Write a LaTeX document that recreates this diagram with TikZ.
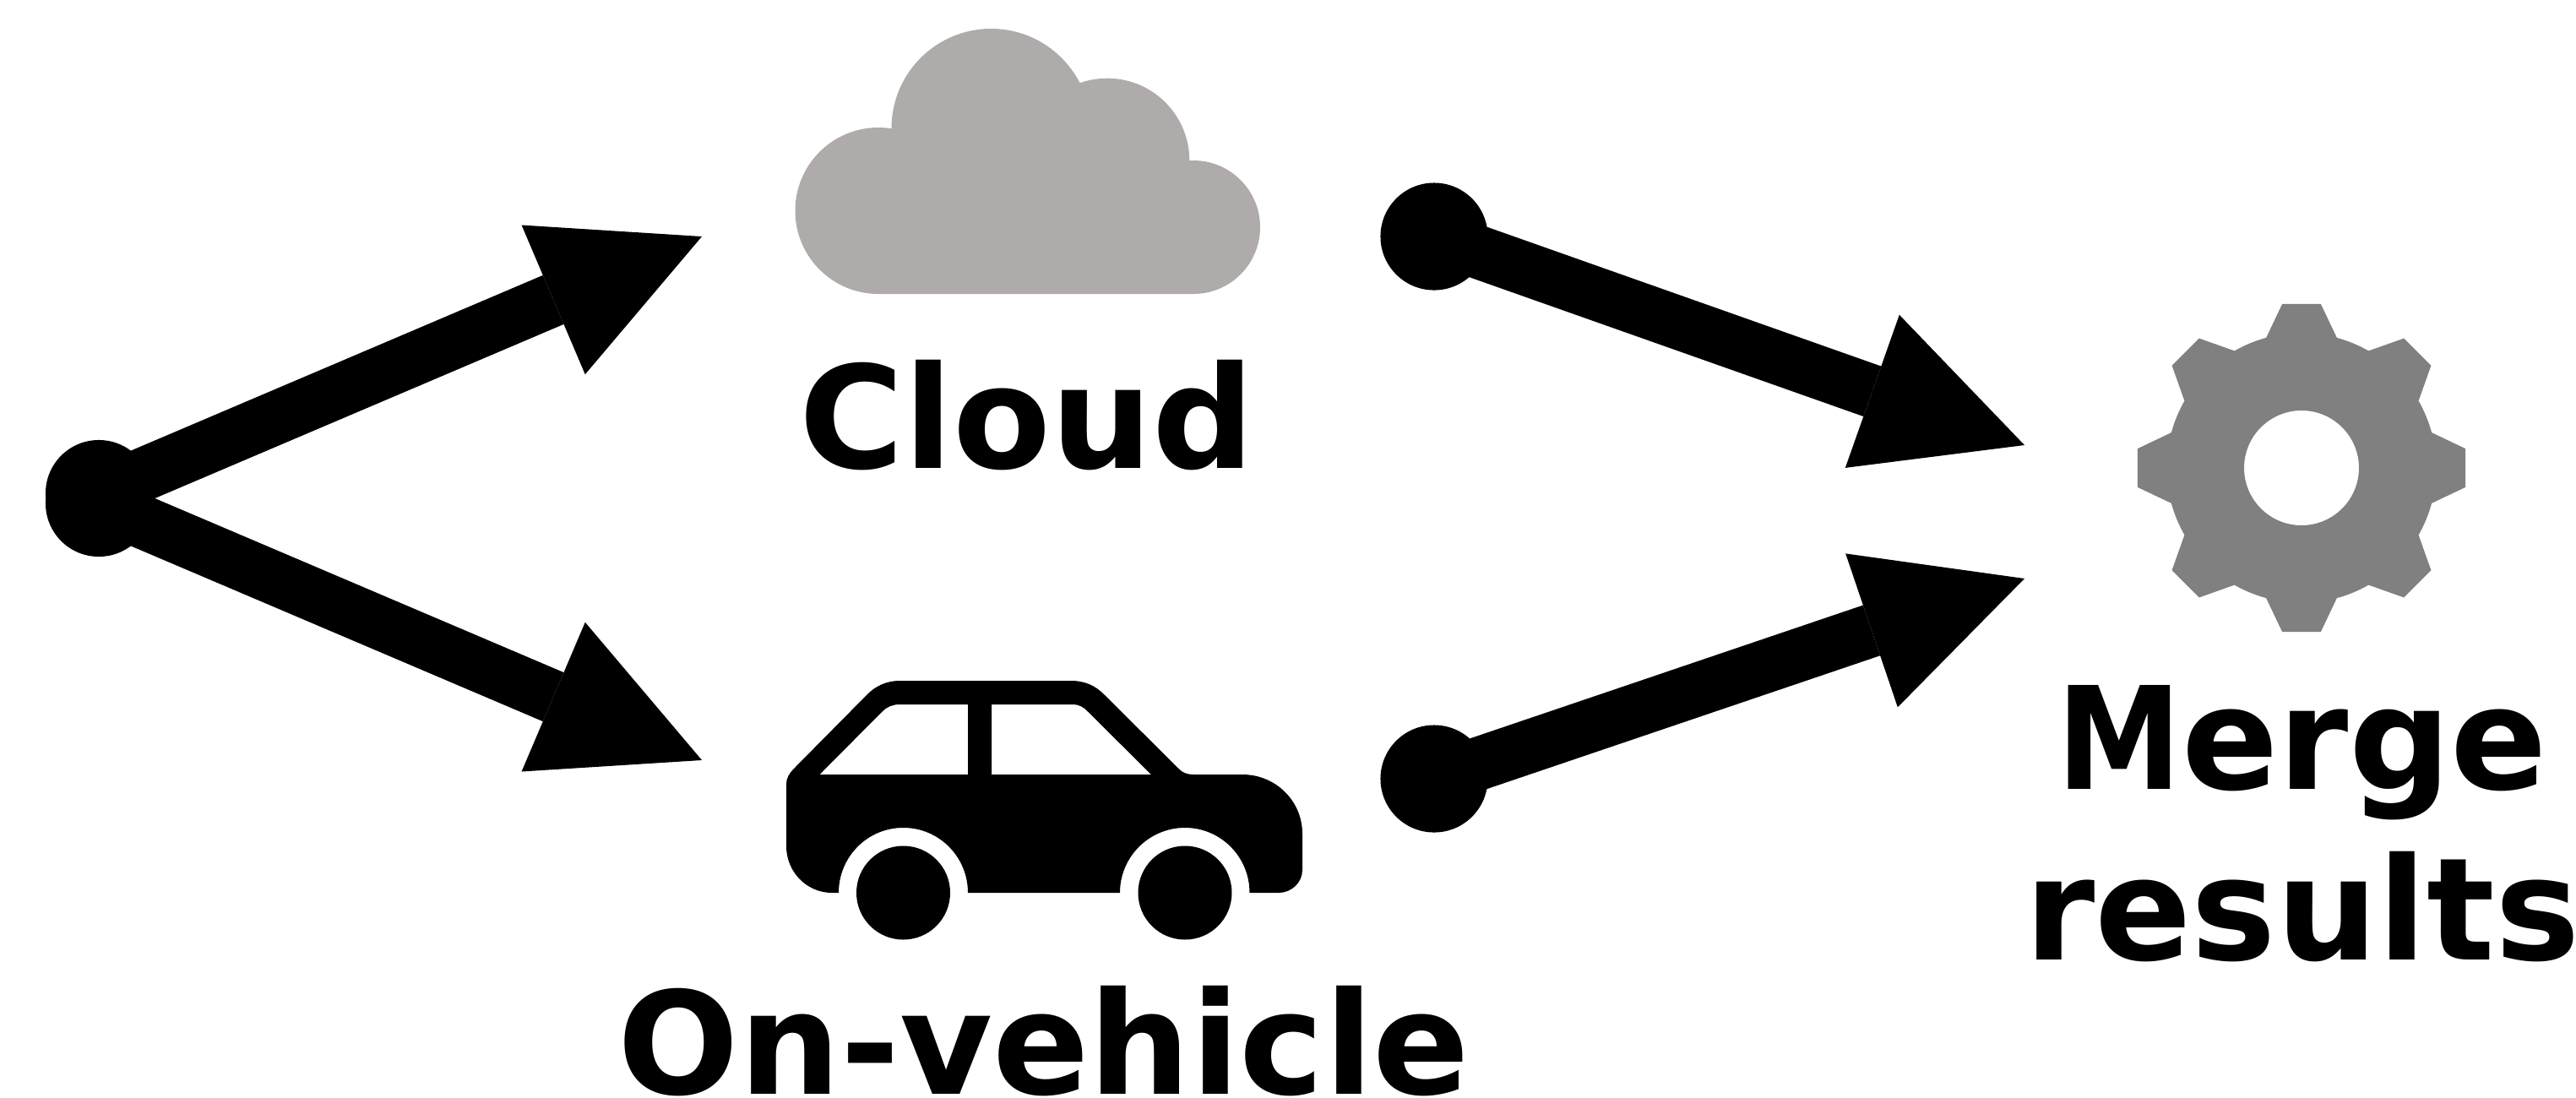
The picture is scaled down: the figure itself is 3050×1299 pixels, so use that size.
\documentclass[tikz,border=0pt]{standalone}
\usepackage{fontspec}
\setmainfont{DejaVu Sans}
\usetikzlibrary{arrows.meta}
\definecolor{cloudgrey}{HTML}{AEABAA}
\definecolor{geargrey}{HTML}{808080}
\tikzset{
  dot/.style={circle,fill=black,inner sep=0pt,minimum size=1.27cm},
  bigarrow/.style={line width=0.63cm,draw=black,preaction={draw,-,shorten >=1.8cm},-{Triangle[length=1.91cm,width=1.92cm,line width=0pt]}},
  label/.style={inner sep=0pt,font=\fontsize{48}{57.6}\selectfont\bfseries,anchor=base},
}
\begin{document}
\begin{tikzpicture}[x=0.01cm,y=-0.01cm]
\useasboundingbox (0,0) rectangle (3050,1299);
% source dots
\node[dot,minimum size=1.26cm] (s1) at (117,584) {};
\node[dot,minimum size=1.26cm] (s2) at (117,596) {};
\fill (54,584) rectangle (180,596);
\coordinate (t1) at (831,280);
\coordinate (t2) at (831,900);
\draw[bigarrow] (s1.center) -- (t1);
\draw[bigarrow] (s2.center) -- (t2);
% right-hand arrows
\node[dot] (r1) at (1698,280) {};
\node[dot] (r2) at (1698,922) {};
\coordinate (t3) at (2397,527);
\coordinate (t4) at (2397,685);
\draw[bigarrow] (r1.center) -- (t3);
\draw[bigarrow] (r2.center) -- (t4);
% cloud
\fill[cloudgrey] (1040,249.5) circle[radius=98.5]
  (1173.5,152) circle[radius=118]
  (1311,190) circle[radius=97.3]
  (1413,269) circle[radius=79];
\fill[cloudgrey] (1040,160) -- (1058,160) -- (1311,190) -- (1413,190) -- (1413,348) -- (1040,348) -- cycle;
% car body
\fill[even odd rule] (940,910) -- (1027,822)
  .. controls (1037,812) and (1050,806) .. (1065,806)
  -- (1268,806)
  .. controls (1285,806) and (1297,812) .. (1307,822)
  -- (1395.5,910)
  .. controls (1400,915) and (1406,917) .. (1413,917)
  -- (1471,917)
  .. controls (1510,917) and (1542,948) .. (1542,987)
  -- (1542,1030)
  .. controls (1542,1045) and (1529,1057) .. (1514,1057)
  -- (1479.5,1057)
  .. controls (1479.5,1014.5) and (1445.5,980) .. (1403,980)
  .. controls (1360.5,980) and (1326,1014.5) .. (1326,1057)
  -- (1146,1057)
  .. controls (1146,1014.5) and (1112,980) .. (1069.5,980)
  .. controls (1027,980) and (993,1014.5) .. (993,1057)
  -- (985,1057)
  .. controls (955,1057) and (931,1032) .. (931,1002)
  -- (931,928)
  .. controls (931,921) and (935,915) .. (940,910) -- cycle
  (970.5,917) -- (1045,842)
  .. controls (1050,837) and (1057,834) .. (1065,834)
  -- (1146,834) -- (1146,917) -- cycle
  (1174,834) -- (1270.5,834)
  .. controls (1277,834) and (1283,837) .. (1287.5,842)
  -- (1363,917) -- (1174,917) -- cycle;
\fill (1069.5,1057) circle[radius=55.5];
\fill (1403,1057) circle[radius=55.5];
% gear
\begin{scope}[shift={(2725,554)},y=0.01cm]
\fill[geargrey,even odd rule]
  (96.7:195.5)
  \foreach \a in {90,45,0,-45,-90,-135,-180,-225} {
    -- (\a-6.7:195.5) -- (\a-15.2:159.7) arc[start angle=\a-15.2,end angle=\a-29.8,radius=1.597cm]
    -- (\a-38.3:195.5)
  } -- cycle
  (0,0) circle[radius=68];
\end{scope}
% labels
\node[label] (cloud) at (1216,554) {Cloud};
\node[label] (veh) at (1236,1295) {On-vehicle};
\node[label,anchor=center,align=center] (merge) at (2726,975) {\scalebox{0.88}[1]{M}erge\\results};
\end{tikzpicture}
\end{document}
